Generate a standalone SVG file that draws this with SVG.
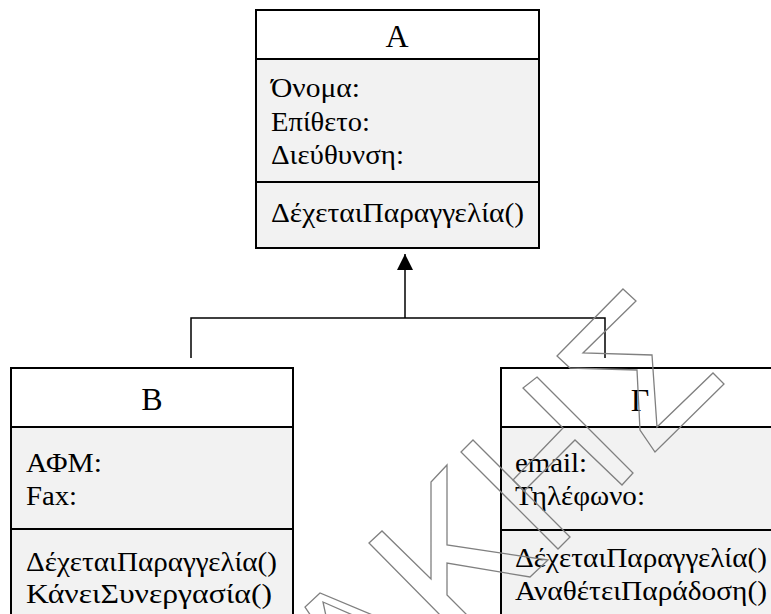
<svg xmlns="http://www.w3.org/2000/svg" width="771" height="614" viewBox="0 0 771 614">
<style>
.hdr{fill:#ffffff;stroke:#000;stroke-width:2}
.body{fill:#f2f2f2;stroke:#000;stroke-width:2}
.t{font-family:"Liberation Serif","Times New Roman",serif;font-size:27.5px;fill:#000}
.title{font-family:"Liberation Serif","Times New Roman",serif;font-size:32px;fill:#000;text-anchor:middle}
.conn{fill:none;stroke:#000;stroke-width:1.5}
.wm{fill:none;stroke:#808080;stroke-width:1.3;stroke-linejoin:miter}
</style>
<defs>
<marker id="tri" viewBox="0 0 16 16" refX="16" refY="8" markerWidth="16" markerHeight="16" markerUnits="userSpaceOnUse" orient="auto">
<path d="M0,0 L16,8 L0,16 Z" fill="#000"/>
</marker>
</defs>
<rect width="771" height="614" fill="#ffffff"/>
<g id="connectors">
<polyline class="conn" points="191,358 191,318 605,318 605,358"/>
<line class="conn" x1="405" y1="318" x2="405" y2="254" marker-end="url(#tri)"/>
</g>
<g id="node-A">
<rect class="body" x="256" y="59" width="283" height="189"/>
<rect class="hdr" x="256" y="10" width="283" height="49"/>
<line class="body" x1="256" y1="182" x2="539" y2="182"/>
<text class="title" x="397" y="47">Α</text>
<text class="t" x="271" y="97" textLength="89" lengthAdjust="spacingAndGlyphs">Όνομα:</text>
<text class="t" x="271" y="131" textLength="99" lengthAdjust="spacingAndGlyphs">Επίθετο:</text>
<text class="t" x="271" y="164" textLength="133" lengthAdjust="spacingAndGlyphs">Διεύθυνση:</text>
<text class="t" x="271" y="222" textLength="253" lengthAdjust="spacingAndGlyphs">ΔέχεταιΠαραγγελία()</text>
</g>
<g id="node-B">
<rect class="body" x="11" y="427" width="282" height="200"/>
<rect class="hdr" x="11" y="368" width="282" height="59"/>
<line class="body" x1="11" y1="529" x2="293" y2="529"/>
<text class="title" x="152" y="410">Β</text>
<text class="t" x="26" y="472" textLength="76" lengthAdjust="spacingAndGlyphs">ΑΦΜ:</text>
<text class="t" x="26" y="505" textLength="51" lengthAdjust="spacingAndGlyphs">Fax:</text>
<text class="t" x="26" y="571" textLength="251" lengthAdjust="spacingAndGlyphs">ΔέχεταιΠαραγγελία()</text>
<text class="t" x="26" y="603" textLength="246" lengthAdjust="spacingAndGlyphs">ΚάνειΣυνεργασία()</text>
</g>
<g id="node-G">
<rect class="body" x="501" y="427" width="290" height="200"/>
<rect class="hdr" x="501" y="368" width="290" height="59"/>
<line class="body" x1="501" y1="530" x2="791" y2="530"/>
<text class="title" x="640" y="411">Γ</text>
<text class="t" x="515" y="472" textLength="72" lengthAdjust="spacingAndGlyphs">email:</text>
<text class="t" x="515" y="505" textLength="130" lengthAdjust="spacingAndGlyphs">Τηλέφωνο:</text>
<text class="t" x="515" y="567" textLength="252" lengthAdjust="spacingAndGlyphs">ΔέχεταιΠαραγγελία()</text>
<text class="t" x="515" y="600" textLength="252" lengthAdjust="spacingAndGlyphs">ΑναθέτειΠαράδοση()</text>
</g>
<g id="watermark">
<polygon class="wm" points="623,289 636,301 583,353 652,355 657,427 713,373 724,384 655,452 640,430 637,370 570,368 557,356"/>
<polygon class="wm" points="537,377 633,473 622,485 575,440 524,491 513,480 563,428 523,388"/>
<polygon class="wm" points="473,440 570,537 558,549 461,452"/>
<polygon class="wm" points="369,543 382,531 431,579 431,482 447,465 447,545 548,560 530,577 447,563 447,595 473,621 446,621"/>
<polyline class="wm" points="311,616 305,607 320,593 375,616"/>
<polyline class="wm" points="326,616 323,602 355,616"/>
</g>
</svg>
